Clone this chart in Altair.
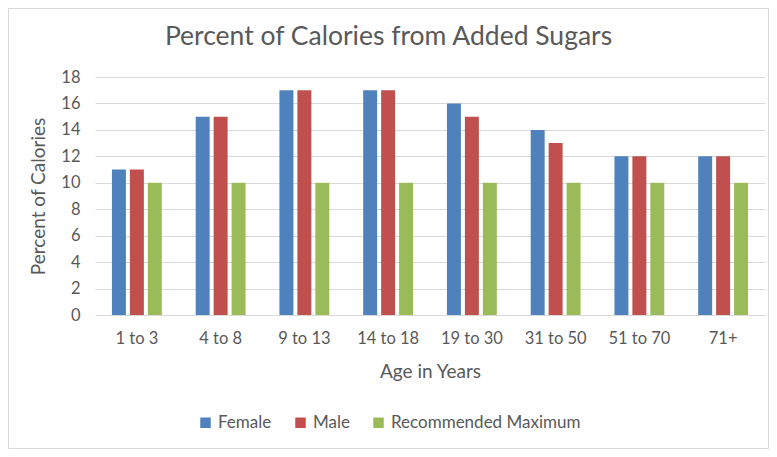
import altair as alt
import pandas as pd

ages = ["1 to 3", "4 to 8", "9 to 13", "14 to 18", "19 to 30", "31 to 50", "51 to 70", "71+"]
female = [11, 15, 17, 17, 16, 14, 12, 12]
male = [11, 15, 17, 17, 15, 13, 12, 12]
recommended = [10, 10, 10, 10, 10, 10, 10, 10]
series = ["Female", "Male", "Recommended Maximum"]
colors = ["#4F81BD", "#C0504D", "#9BBB59"]

rows = []
for name, vals in zip(series, [female, male, recommended]):
    for a, v in zip(ages, vals):
        rows.append({"Age": a, "Series": name, "Value": v})
df = pd.DataFrame(rows)

FONT = "Lato"
GRAY = "#595959"
W, H = 670, 238

bars = alt.Chart(df).mark_bar().encode(
    x=alt.X("Age:N", sort=ages, title="Age in Years",
            scale=alt.Scale(paddingInner=0, paddingOuter=0),
            axis=alt.Axis(labelAngle=0, ticks=False, domain=False, grid=False, labelPadding=15,
                          titlePadding=16, labelFontSize=16.5, titleFontSize=19,
                          labelColor=GRAY, titleColor=GRAY, titleFontWeight="normal",
                          labelFont=FONT, titleFont=FONT)),
    xOffset=alt.XOffset("Series:N", sort=series,
                        scale=alt.Scale(paddingInner=0.222, paddingOuter=0.944)),
    y=alt.Y("Value:Q", title="Percent of Calories",
            scale=alt.Scale(domain=[0, 18], nice=False),
            axis=alt.Axis(values=list(range(0, 19, 2)), ticks=False, domain=False,
                          labelOverlap=False,
                          labelPadding=15, titlePadding=12, labelFontSize=16.5, titleFontSize=19,
                          labelColor=GRAY, titleColor=GRAY, titleFontWeight="normal",
                          gridColor="#D9D9D9", gridWidth=1,
                          labelFont=FONT, titleFont=FONT)),
    color=alt.Color("Series:N", sort=series,
                    scale=alt.Scale(domain=series, range=colors),
                    legend=alt.Legend(title=None, orient="none", direction="horizontal",
                                      legendX=102, legendY=337,
                                      symbolType="square", symbolSize=110,
                                      symbolStrokeWidth=0, labelLimit=0,
                                      labelFontSize=17, labelColor=GRAY, labelFont=FONT,
                                      columnPadding=20, labelOffset=4)),
)

frame = alt.Chart(pd.DataFrame({"a": [0]})).mark_rect(
    fill=None, stroke="#D9D9D9", strokeWidth=1
).encode(
    x=alt.value(-86.5), x2=alt.value(W + 3.5), y=alt.value(-68.5), y2=alt.value(H + 133.5)
)

chart = alt.layer(bars, frame).properties(
    width=W, height=H,
    background="white",
    autosize=alt.AutoSizeParams(type="none"),
    padding={"left": 87, "top": 69, "right": 4, "bottom": 134},
    title=alt.Title("Percent of Calories from Added Sugars", fontSize=26.5, font=FONT,
                    color=GRAY, fontWeight="normal", offset=0, dy=42, anchor="middle",
                    frame="bounds"),
).configure_view(strokeWidth=0, stroke="transparent").configure_axis(domain=False).configure_axisX(grid=False)

chart.save("out.html", embed_options={"renderer": "svg", "actions": False})
